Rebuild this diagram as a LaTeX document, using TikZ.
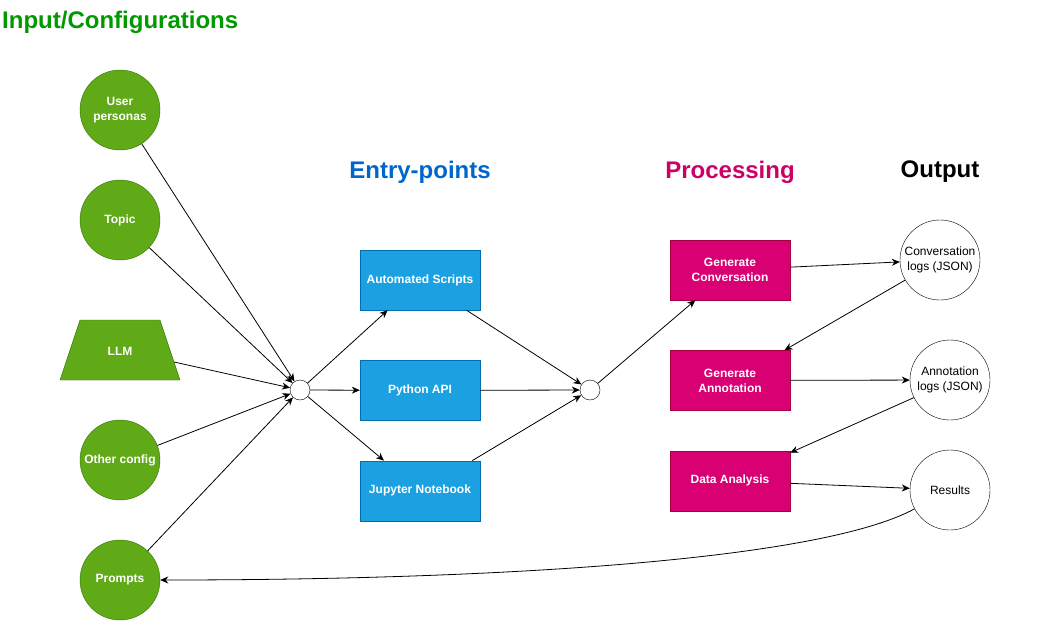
\documentclass[tikz,border=0pt]{standalone}
\usepackage{fontspec}
\setmainfont{Liberation Sans}
\usepackage{xcolor}
\usepackage{tikz}
\usetikzlibrary{shapes.geometric, arrows.meta, positioning}

\definecolor{inputfill}{HTML}{60A917}
\definecolor{inputline}{HTML}{2D7600}
\definecolor{entryfill}{HTML}{1BA1E2}
\definecolor{entryline}{HTML}{006EAF}
\definecolor{procfill}{HTML}{D80073}
\definecolor{procline}{HTML}{A50040}
\definecolor{inputtitle}{HTML}{009900}
\definecolor{entrytitle}{HTML}{0066CC}
\definecolor{proctitle}{HTML}{CC0066}

\begin{document}
\begin{tikzpicture}[
    x=1pt, y=-1pt,
    node distance=50pt and 60pt,
    config/.style={circle, draw=inputline, fill=inputfill, minimum size=80pt, inner sep=0pt, align=center, text=white, font=\fontsize{12}{15}\selectfont\bfseries},
    model/.style={trapezium, trapezium angle=71.57, trapezium stretches body, draw=inputline, fill=inputfill, minimum width=120pt, text height=10pt, text depth=0pt, inner ysep=25pt, inner xsep=0pt, text=white, font=\fontsize{12}{15}\selectfont\bfseries},
    entry/.style={rectangle, draw=entryline, fill=entryfill, minimum width=120pt, minimum height=60pt, align=center, text=white, font=\fontsize{12}{15}\selectfont\bfseries},
    process/.style={rectangle, draw=procline, fill=procfill, minimum width=120pt, minimum height=60pt, align=center, text=white, font=\fontsize{12}{15}\selectfont\bfseries},
    result/.style={circle, draw, fill=white, minimum size=80pt, inner sep=0pt, align=center, font=\fontsize{12}{15}\selectfont},
    hub/.style={circle, draw, fill=white, minimum size=20pt, inner sep=0pt},
    heading/.style={font=\fontsize{24}{28}\selectfont\bfseries},
    arrow/.style={line width=0.8pt, -{Stealth[length=8pt, width=7pt, inset=2.5pt]}},
]
\useasboundingbox (0,0) rectangle (1060,621);

% Headings
\node[heading, text=inputtitle, anchor=west, inner sep=2pt] (inhead) at (0,22) {Input/Configurations};
\node[heading, text=entrytitle] (entryhead) at (420,172) {Entry-points};
\node[heading, text=proctitle] (prochead) at (730,172) {Processing};
\node[heading] (outhead) at (940,172) {Output};

% Inputs
\node[config] (persona) at (120,110) {User\\personas};
\node[config] (topic) at (120,220) {Topic};
\node[model] (llm) at (120,350) {LLM};
\node[config] (other) at (120,460) {Other config};
\node[config] (prompts) at (120,580) {Prompts};

% Entry points
\node[hub] (inhub) at (300,390) {};
\node[entry] (scripts) at (420,280) {Automated Scripts};
\node[entry, below=of scripts] (api) {Python API};
\node[entry, below=40pt of api] (notebook) {Jupyter Notebook};
\node[hub] (outhub) at (590,390) {};

% Processing
\node[process] (genconv) at (730,270) {Generate\\Conversation};
\node[process, below=of genconv] (genannot) {Generate\\Annotation};
\node[process, below=40pt of genannot] (analysis) {Data Analysis};

% Output
\node[result] (convlog) at (940,260) {Conversation\\logs (JSON)};
\node[result] (annotlog) at (950,380) {Annotation\\logs (JSON)};
\node[result] (results) at (950,490) {Results};

% Arrows
\draw[arrow] (persona) -- (inhub);
\draw[arrow] (topic) -- (inhub);
\draw[arrow] (llm) -- (inhub);
\draw[arrow] (other) -- (inhub);
\draw[arrow] (prompts) -- (inhub);
\draw[arrow] (inhub) -- (scripts.223);
\draw[arrow] (inhub) -- (api);
\draw[arrow] (inhub) -- (notebook.140);
\draw[arrow] (scripts.-33) -- (outhub);
\draw[arrow] (api) -- (outhub);
\draw[arrow] (notebook.30) -- (outhub);
\draw[arrow] (outhub) -- (genconv.221);
\draw[arrow] (genconv) -- (convlog);
\draw[arrow] (convlog.210) -- (genannot.29);
\draw[arrow] (genannot) -- (annotlog);
\draw[arrow] (annotlog.206) -- (analysis.25);
\draw[arrow] (analysis) -- (results);
\draw[arrow] (results.208) .. controls (820,560) and (500,580) .. (prompts.east);

\end{tikzpicture}
\end{document}
